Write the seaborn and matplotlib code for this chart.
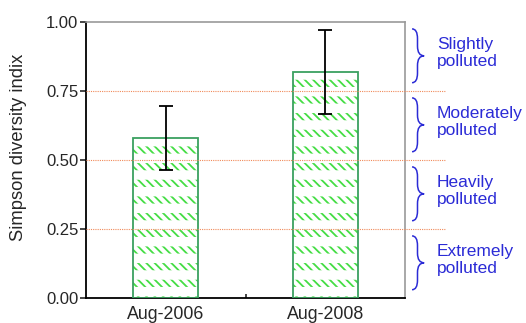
import matplotlib
matplotlib.use("Agg")
import matplotlib.pyplot as plt
import matplotlib.transforms as mtransforms
import pandas as pd
import seaborn as sns
from matplotlib.patches import PathPatch
from matplotlib.path import Path

PERIODS = ["Aug-2006", "Aug-2008"]
SIMPSON_MEAN = [0.58, 0.82]
ERR_LOW = [0.465, 0.665]
ERR_HIGH = [0.695, 0.97]
THRESHOLDS = [0.25, 0.50, 0.75]
ZONE_LABELS = ["Extremely\npolluted", "Heavily\npolluted",
               "Moderately\npolluted", "Slightly\npolluted"]
ZONE_BOUNDS = [(0.0, 0.25), (0.25, 0.50), (0.50, 0.75), (0.75, 1.00)]
Y_TICKS = [0.0, 0.25, 0.50, 0.75, 1.00]

FONT = ["Liberation Sans", "DejaVu Sans"]
BLUE = "#2b2bd6"


def set_hatch_width(patches, width):
    for p in patches:
        if hasattr(p, "set_hatch_linewidth"):
            p.set_hatch_linewidth(width)
        else:
            p._hatch_linewidth = width


def draw_brace(ax, y0, y1, x0=1.022, w=0.038, r=0.035):
    # curly brace "}" drawn in axes-x / data-y coordinates
    trans = mtransforms.blended_transform_factory(ax.transAxes, ax.transData)
    xm = x0 + w * 0.45
    ym = (y0 + y1) / 2
    verts = [
        (x0, y1), (xm, y1), (xm, y1 - r),
        (xm, ym + r),
        (xm, ym), (x0 + w, ym),
        (xm, ym), (xm, ym - r),
        (xm, y0 + r),
        (xm, y0), (x0, y0),
    ]
    codes = [Path.MOVETO, Path.CURVE3, Path.CURVE3,
             Path.LINETO,
             Path.CURVE3, Path.CURVE3,
             Path.CURVE3, Path.CURVE3,
             Path.LINETO,
             Path.CURVE3, Path.CURVE3]
    patch = PathPatch(Path(verts, codes), transform=trans, fill=False,
                      edgecolor=BLUE, linewidth=1.1, clip_on=False)
    ax.add_patch(patch)


def main() -> None:
    sns.set_style("ticks")
    plt.rcParams["font.family"] = FONT

    df = pd.DataFrame({"period": PERIODS, "simpson": SIMPSON_MEAN})

    fig = plt.figure(figsize=(5.26, 3.23), dpi=100)
    ax = fig.add_axes([0.1635, 0.0774, 0.6065, 0.8545])

    # green diagonal hatch
    plt.rcParams["hatch.linewidth"] = 1.3
    sns.barplot(data=df, x="period", y="simpson", ax=ax, width=0.41,
                color="white", edgecolor="#44dd44", linewidth=0,
                hatch="\\\\\\\\", errorbar=None, zorder=2)
    n_fill = len(ax.patches)
    set_hatch_width(ax.patches[:n_fill], 1.3)

    # thick white rows break diagonals into short dashes
    plt.rcParams["hatch.linewidth"] = 6.8
    sns.barplot(data=df, x="period", y="simpson", ax=ax, width=0.41,
                fill=False, edgecolor="white", linewidth=0,
                hatch="-", errorbar=None, zorder=2.5)
    n_gap = len(ax.patches)
    set_hatch_width(ax.patches[n_fill:n_gap], 6.8)
    plt.rcParams["hatch.linewidth"] = 1.0

    # outline
    sns.barplot(data=df, x="period", y="simpson", ax=ax, width=0.41,
                fill=False, edgecolor="#3aa060", linewidth=1.3,
                errorbar=None, zorder=3)

    means = df["simpson"].to_numpy()
    lower = means - pd.Series(ERR_LOW).to_numpy()
    upper = pd.Series(ERR_HIGH).to_numpy() - means
    ax.errorbar(range(len(PERIODS)), means, yerr=[lower, upper], fmt="none",
                ecolor="black", elinewidth=1.3, capsize=5, capthick=1.3,
                zorder=5)

    trans = mtransforms.blended_transform_factory(ax.transAxes, ax.transData)
    for t in THRESHOLDS:
        ax.plot([0, 1.13], [t, t], transform=trans, color="#f08a5a",
                linestyle=(0, (1, 1)), linewidth=0.8, clip_on=False, zorder=4)

    for (lo, hi), label in zip(ZONE_BOUNDS, ZONE_LABELS):
        draw_brace(ax, lo + 0.03, hi - 0.025)
        ax.text(1.100, (lo + hi) / 2 + 0.013, label, transform=trans,
                ha="left", va="center", fontsize=12.5, color=BLUE,
                linespacing=1.2, family=FONT)

    ax.set_xlim(-0.5, 1.5)
    ax.set_ylim(0, 1.0)
    ax.set_yticks(Y_TICKS)
    ax.set_yticklabels([f"{v:.2f}" for v in Y_TICKS], fontsize=12)
    ax.set_xlabel("")
    ax.set_ylabel("Simpson diversity indix", fontsize=13.2)
    ax.yaxis.set_label_coords(-0.185, 0.545)
    ax.tick_params(axis="x", length=0, labelsize=12.8, pad=5.5)
    ax.tick_params(axis="y", length=4, width=1.2, direction="out", pad=1.5)
    ax.set_xticks([0.5], minor=True)
    ax.tick_params(axis="x", which="minor", direction="in", length=3, width=1.2)

    for side in ["left", "bottom"]:
        ax.spines[side].set_color("black")
        ax.spines[side].set_linewidth(1.3)
    for side in ["top", "right"]:
        ax.spines[side].set_visible(True)
        ax.spines[side].set_color("#999999")
        ax.spines[side].set_linewidth(1.2)

    fig.savefig("out.png", dpi=100)


if __name__ == "__main__":
    main()
